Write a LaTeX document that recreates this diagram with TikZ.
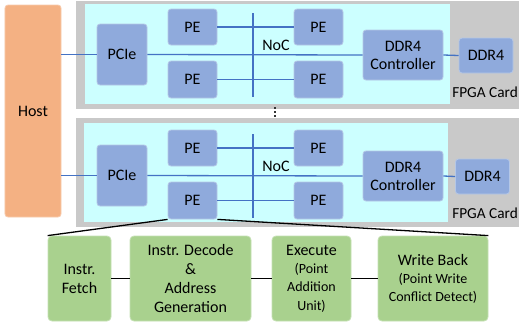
\documentclass[tikz,border=0pt]{standalone}
\usepackage{fontspec}
\setmainfont{Carlito}
\definecolor{cardgrey}{HTML}{C9C9C9}
\definecolor{fpgacyan}{HTML}{CCFFFF}
\definecolor{pefill}{HTML}{8FAADC}
\definecolor{pedraw}{HTML}{B4C7E7}
\definecolor{hostfill}{HTML}{F4B183}
\definecolor{hostdraw}{HTML}{F8CBAD}
\definecolor{grfill}{HTML}{A9D18E}
\definecolor{grdraw}{HTML}{C5E0B4}
\definecolor{bus}{HTML}{4472C4}
\tikzset{
  mainfont/.style={font=\fontsize{16bp}{19bp}\selectfont},
  bluebox/.style={rectangle, rounded corners=3bp, fill=pefill, draw=pedraw, line width=0.8bp, inner sep=0pt, mainfont, align=center},
  hostbox/.style={rectangle, rounded corners=3bp, fill=hostfill, draw=hostdraw, line width=0.8bp, inner sep=0pt, mainfont},
  greenbox/.style={rectangle, rounded corners=4bp, fill=grfill, draw=grdraw, line width=0.8bp, inner sep=0pt, align=center},
  busline/.style={draw=bus, line width=1.3bp},
  blackline/.style={draw=black, line width=1.3bp},
  plainlabel/.style={inner sep=0pt, mainfont},
  cardlabel/.style={inner sep=0pt, font=\fontsize{15.3bp}{18bp}\selectfont},
}
\begin{document}
\begin{tikzpicture}[x=1bp,y=-1bp]
\useasboundingbox (0,0) rectangle (519,327);
\fill[white] (0,0) rectangle (519,327);

% cards
\fill[cardgrey] (76,1) rectangle (530,109);
\fill[fpgacyan] (85,4) rectangle (450,104);
\fill[cardgrey] (76,118) rectangle (530,227);
\fill[fpgacyan] (84,123) rectangle (448,222);

\node[hostbox, minimum width=56bp, minimum height=212bp] (host) at (33,111) {Host};

\foreach \i/\dy/\dx in {1/0/486, 2/121/482.5} {
  \node[bluebox, minimum width=50bp, minimum height=61bp] (pcie\i) at (122,54.5+\dy) {PCIe};
  \node[bluebox, minimum width=49bp, minimum height=36bp] (peA\i) at (192.5,27+\dy) {PE};
  \node[bluebox, minimum width=49bp, minimum height=37bp] (peB\i) at (192.5,79.5+\dy) {PE};
  \node[bluebox, minimum width=49bp, minimum height=36bp] (peC\i) at (318.5,27+\dy) {PE};
  \node[bluebox, minimum width=49bp, minimum height=37bp] (peD\i) at (318.5,79.5+\dy) {PE};
  \node[bluebox, minimum width=80bp, minimum height=50bp] (ctrl\i) at (403,55+\dy) {DDR4\\[-1bp]Controller};
  \node[bluebox, minimum width=54bp, minimum height=35bp] (ddr\i) at (\dx,55.5+\dy) {DDR4};
  \node[cardlabel, anchor=east] (fpga\i) at (518,92+\dy) {FPGA Card};
  \node[plainlabel] (noc\i) at (276,45+\dy) {NoC};
  \coordinate (noctop\i) at (253,13+\dy);
  \coordinate (nocbot\i) at (253,97+\dy);
  \draw[busline] (noctop\i) -- (nocbot\i);
  \draw[busline] (peA\i.east) -- (peC\i.west);
  \draw[busline] (peB\i.east) -- (peD\i.west);
  \draw[busline] (pcie\i.east) -- (ctrl\i.west);
  \draw[busline] (ctrl\i.east) -- (ddr\i.west);
  \draw[busline] (host.east |- pcie\i.west) -- (pcie\i.west);
}

% vertical ellipsis between cards
\foreach \k/\yy in {1/108, 2/112, 3/116} {
  \fill[black!80] (273.8,\yy-1.1) rectangle (276.2,\yy+1.1);
}

% pipeline
\node[greenbox, minimum width=63bp, minimum height=85bp, mainfont] (fetch) at (79.5,278.5) {Instr.\\Fetch};
\node[greenbox, minimum width=121bp, minimum height=85bp, mainfont] (decode) at (190.5,278.5) {Instr. Decode\\\&\\Address\\Generation};
\node[greenbox, minimum width=79bp, minimum height=85bp, font=\fontsize{14bp}{18.3bp}\selectfont] (exec) at (311.5,278.5) {{\fontsize{16bp}{18.3bp}\selectfont Execute}\\(Point\\Addition\\Unit)};
\node[greenbox, minimum width=110bp, minimum height=85bp, font=\fontsize{14bp}{18bp}\selectfont] (wb) at (433,278.5) {{\fontsize{16bp}{18bp}\selectfont Write Back}\\(Point Write\\Conflict Detect)};

\draw[blackline] (fetch.east) -- (decode.west);
\draw[blackline] (decode.east) -- (exec.west);
\draw[blackline] (exec.east) -- (wb.west);
\draw[blackline] (peB2.south west) -- (fetch.north west);
\draw[blackline] (peB2.south east) -- (wb.north east);
\end{tikzpicture}
\end{document}
